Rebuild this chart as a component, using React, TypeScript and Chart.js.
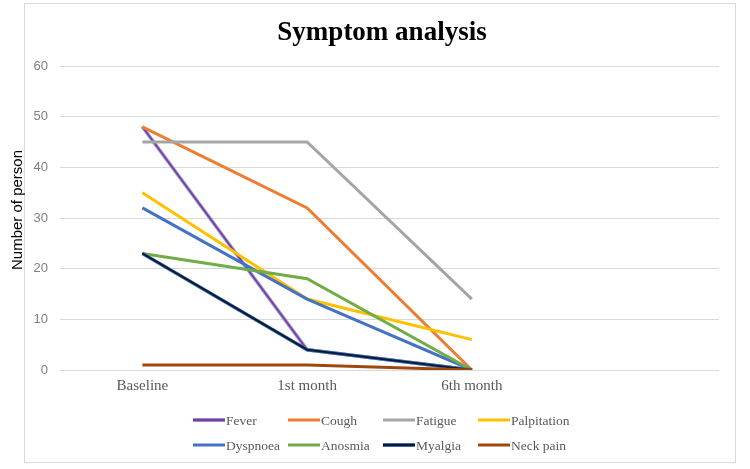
import React, { useEffect, useRef } from 'react';
import { Chart, registerables } from 'chart.js';

Chart.register(...registerables);

// ---- data ----
const categories = ['Baseline', '1st month', '6th month', ''];
const seriesNames = ['Fever', 'Cough', 'Fatigue', 'Palpitation', 'Dyspnoea', 'Anosmia', 'Myalgia', 'Neck pain'];
const fever = [48, 4, 0];
const cough = [48, 32, 0];
const fatigue = [45, 45, 14];
const palpitation = [35, 14, 6];
const dyspnoea = [32, 14, 0];
const anosmia = [23, 18, 0];
const myalgia = [23, 4, 0];
const neckPain = [1, 1, 0];
const seriesValues = [fever, cough, fatigue, palpitation, dyspnoea, anosmia, myalgia, neckPain];
const yTicks = [0, 10, 20, 30, 40, 50, 60];

const chartTitle = 'Symptom analysis';
const yTitle = 'Number of person';

// ---- styles ----
const seriesColors = ['#A02B93', '#ED7D31', '#A5A5A5', '#FFC000', '#4472C4', '#70AD47', '#0B1A2E', '#9E480E'];
const underlayColors: (string | null)[] = ['#6FA8DC', null, null, null, null, null, '#4472C4', null];
const mainWidths = [1.6, 3, 3, 3, 3, 3, 2, 3];

const decorPlugin = {
  id: 'decor',
  beforeDraw(chart: any) {
    const ctx = chart.ctx;
    ctx.save();
    ctx.fillStyle = '#ffffff';
    ctx.fillRect(0, 0, chart.width, chart.height);
    ctx.strokeStyle = '#d9d9d9';
    ctx.lineWidth = 1;
    ctx.strokeRect(24.5, 3.5, 711, 459);
    ctx.restore();
  },
  afterDraw(chart: any) {
    const ctx = chart.ctx;
    ctx.save();
    // title
    ctx.fillStyle = '#000000';
    ctx.font = 'bold 27px "Liberation Serif", "Times New Roman", serif';
    ctx.textAlign = 'center';
    ctx.textBaseline = 'middle';
    ctx.fillText(chartTitle, 382, 33);
    // y title
    ctx.save();
    ctx.translate(18, 210);
    ctx.rotate(-Math.PI / 2);
    ctx.font = '15px "Liberation Sans", Arial, sans-serif';
    ctx.fillStyle = '#000000';
    ctx.textAlign = 'center';
    ctx.textBaseline = 'middle';
    ctx.fillText(yTitle, 0, 0);
    ctx.restore();
    // legend
    ctx.font = '13.5px "Liberation Serif", "Times New Roman", serif';
    ctx.textAlign = 'left';
    ctx.textBaseline = 'middle';
    seriesNames.forEach((name, i) => {
      const col = i % 4;
      const row = Math.floor(i / 4);
      const x0 = 193 + col * 95;
      const y = 420 + row * 25;
      const under = underlayColors[i];
      if (under) {
        ctx.strokeStyle = under;
        ctx.lineWidth = 4;
        ctx.beginPath();
        ctx.moveTo(x0, y);
        ctx.lineTo(x0 + 32, y);
        ctx.stroke();
      }
      ctx.strokeStyle = seriesColors[i];
      ctx.lineWidth = under ? 2.2 : 3;
      ctx.beginPath();
      ctx.moveTo(x0, y);
      ctx.lineTo(x0 + 32, y);
      ctx.stroke();
      ctx.fillStyle = '#595959';
      ctx.fillText(name, x0 + 33, y + 1);
    });
    ctx.restore();
  },
};

export default function App() {
  const canvasRef = useRef<HTMLCanvasElement | null>(null);

  useEffect(() => {
    if (!canvasRef.current) return;
    const n = seriesNames.length;
    const datasets: any[] = [];
    seriesNames.forEach((name, i) => {
      const under = underlayColors[i];
      if (under) {
        datasets.push({
          label: name + ' outline',
          data: seriesValues[i],
          borderColor: under,
          backgroundColor: under,
          borderWidth: 3.6,
          pointRadius: 0,
          tension: 0,
          order: 2 * (n - i) + 1,
        });
      }
      datasets.push({
        label: name,
        data: seriesValues[i],
        borderColor: seriesColors[i],
        backgroundColor: seriesColors[i],
        borderWidth: mainWidths[i],
        pointRadius: 0,
        tension: 0,
        order: 2 * (n - i),
      });
    });

    const chart = new Chart(canvasRef.current, {
      type: 'line',
      data: { labels: categories, datasets },
      options: {
        responsive: false,
        animation: false,
        devicePixelRatio: 1,
        layout: { padding: { left: 0, right: 31, top: 66, bottom: 0 } },
        plugins: {
          legend: { display: false },
          title: { display: false },
          tooltip: { enabled: false },
        },
        scales: {
          x: {
            offset: true,
            grid: { display: false, drawTicks: false },
            border: { display: false },
            ticks: {
              color: '#595959',
              padding: 7,
              maxRotation: 0,
              autoSkip: false,
              font: { family: '"Liberation Serif", "Times New Roman", serif', size: 15 },
            },
            afterFit: (scale: any) => {
              scale.height = 99;
            },
          },
          y: {
            min: 0,
            max: 60,
            afterBuildTicks: (scale: any) => {
              scale.ticks = yTicks.map((v) => ({ value: v }));
            },
            grid: { color: '#d9d9d9', lineWidth: 1, drawTicks: false },
            border: { display: false },
            ticks: {
              color: '#7f7f7f',
              padding: 12,
              font: { family: '"Liberation Sans", Arial, sans-serif', size: 13 },
            },
            afterFit: (scale: any) => {
              scale.width = 60;
            },
          },
        },
      },
      plugins: [decorPlugin],
    });
    return () => chart.destroy();
  }, []);

  return (
    <div style={{ position: 'fixed', left: 0, top: 0, width: 750, height: 469 }}>
      <canvas ref={canvasRef} width={750} height={469} style={{ width: 750, height: 469 }} />
    </div>
  );
}
